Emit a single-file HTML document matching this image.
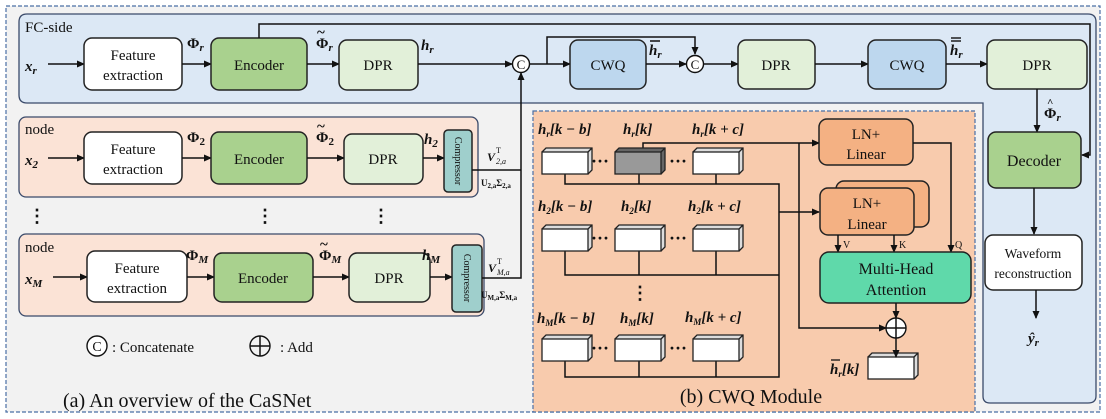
<!DOCTYPE html>
<html><head><meta charset="utf-8"><style>
html,body{margin:0;padding:0;background:#fff}
svg{display:block}
text{font-family:"Liberation Serif",serif;fill:#111}
.b{font-size:15px}
.m{font-size:15px;font-weight:bold;font-style:italic}
.p{font-size:15px;font-weight:bold}
.box{stroke:#222;stroke-width:1.5}
.ln{stroke:#111;stroke-width:1.5;fill:none}
</style></head><body>
<svg width="1106" height="419" viewBox="0 0 1106 419" xmlns="http://www.w3.org/2000/svg">
<defs>
<marker id="a" markerWidth="8" markerHeight="8" refX="7" refY="4" orient="auto" markerUnits="userSpaceOnUse"><path d="M0,0.5 L8,4 L0,7.5z" fill="#111"/></marker>
<g id="cube"><path d="M0,0 L4,-4 L50,-4 L50,18 L46,22 M46,0 L50,-4" fill="#ddd" stroke="#222" stroke-width="1.3"/><rect x="0" y="0" width="46" height="22" fill="#fff" stroke="#222" stroke-width="1.3"/></g>
<g id="cubeg"><path d="M0,0 L4,-4 L50,-4 L50,18 L46,22 M46,0 L50,-4" fill="#666" stroke="#222" stroke-width="1.3"/><rect x="0" y="0" width="46" height="22" fill="#999" stroke="#222" stroke-width="1.3"/></g>
</defs>
<rect x="6" y="6" width="1094" height="406" fill="#f2f2f2" stroke="#4a6fa5" stroke-width="1.2" stroke-dasharray="4,2"/>
<path d="M27,14 H1088 Q1096,14 1096,22 V396 Q1096,403 1088,403 H990 Q983,403 983,396 V103 H27 Q19,103 19,95 V22 Q19,14 27,14Z" fill="#dce8f5" stroke="#3a4a6a" stroke-width="1.3"/>
<text x="25" y="32" class="b">FC-side</text>
<rect x="533" y="111" width="442" height="301" fill="#f8cbad" stroke="#4a6fa5" stroke-width="1.2" stroke-dasharray="4,2"/>
<rect x="19" y="117" width="459" height="80" rx="7" fill="#fbe3d6" stroke="#3a4a6a" stroke-width="1.3"/>
<text x="25" y="134" class="b">node</text>
<rect x="19" y="234" width="465" height="82" rx="7" fill="#fbe3d6" stroke="#3a4a6a" stroke-width="1.3"/>
<text x="25" y="252" class="b">node</text>

<!-- FC row -->
<text x="25" y="71" class="m" font-size="17">x<tspan font-size="11" dy="3">r</tspan></text>
<line x1="48" y1="64" x2="84" y2="64" class="ln" marker-end="url(#a)"/>
<rect x="84" y="38" width="98" height="52" rx="8" fill="#fff" class="box"/>
<text x="133" y="60" class="b" text-anchor="middle">Feature</text><text x="133" y="80" class="b" text-anchor="middle">extraction</text>
<line x1="182" y1="64" x2="211" y2="64" class="ln" marker-end="url(#a)"/>
<text x="187" y="48" class="p">Φ<tspan font-size="11" dy="3" font-style="italic">r</tspan></text>
<rect x="211" y="38" width="96" height="52" rx="8" fill="#a9d18e" class="box"/>
<text x="259" y="70" class="b" text-anchor="middle">Encoder</text>
<line x1="307" y1="64" x2="339" y2="64" class="ln" marker-end="url(#a)"/>
<text x="316" y="48" class="p">Φ<tspan font-size="11" dy="3" font-style="italic">r</tspan></text><text x="317" y="37" class="p">~</text>
<rect x="339" y="40" width="79" height="50" rx="8" fill="#e2f0d9" class="box"/>
<text x="378" y="70" class="b" text-anchor="middle">DPR</text>
<text x="421" y="50" class="m" font-size="17">h<tspan font-size="11" dy="3">r</tspan></text>
<line x1="418" y1="64" x2="512" y2="64" class="ln" marker-end="url(#a)"/>
<circle cx="521" cy="64" r="8.5" fill="#fff" stroke="#111" stroke-width="1.4"/><text x="521" y="69" font-size="13" text-anchor="middle">C</text>
<line x1="530" y1="64" x2="570" y2="64" class="ln" marker-end="url(#a)"/>
<path d="M547,64 V37 H695 V54" class="ln" marker-end="url(#a)"/>
<rect x="570" y="40" width="76" height="49" rx="8" fill="#bdd7ee" class="box"/>
<text x="608" y="70" class="b" text-anchor="middle">CWQ</text>
<text x="649" y="55" class="m" font-size="17">h<tspan font-size="11" dy="3">r</tspan></text><line x1="650" y1="41" x2="660" y2="41" stroke="#111" stroke-width="1.5"/>
<line x1="646" y1="64" x2="686" y2="64" class="ln" marker-end="url(#a)"/>
<circle cx="695" cy="64" r="8.5" fill="#fff" stroke="#111" stroke-width="1.4"/><text x="695" y="69" font-size="13" text-anchor="middle">C</text>
<line x1="704" y1="64" x2="738" y2="64" class="ln" marker-end="url(#a)"/>
<rect x="738" y="40" width="77" height="49" rx="8" fill="#e2f0d9" class="box"/>
<text x="776" y="70" class="b" text-anchor="middle">DPR</text>
<line x1="815" y1="64" x2="868" y2="64" class="ln" marker-end="url(#a)"/>
<rect x="868" y="40" width="78" height="49" rx="8" fill="#bdd7ee" class="box"/>
<text x="907" y="70" class="b" text-anchor="middle">CWQ</text>
<text x="950" y="55" class="m" font-size="17">h<tspan font-size="11" dy="3">r</tspan></text><line x1="951" y1="38" x2="961" y2="38" stroke="#111" stroke-width="1.4"/><line x1="951" y1="41" x2="961" y2="41" stroke="#111" stroke-width="1.4"/>
<line x1="946" y1="64" x2="987" y2="64" class="ln" marker-end="url(#a)"/>
<rect x="987" y="40" width="100" height="49" rx="8" fill="#e2f0d9" class="box"/>
<text x="1037" y="70" class="b" text-anchor="middle">DPR</text>
<path d="M259,38 V24 H1090 V155 H1082" class="ln" marker-end="url(#a)"/>
<line x1="1037" y1="89" x2="1037" y2="132" class="ln" marker-end="url(#a)"/>
<text x="1044" y="118" class="p">Φ<tspan font-size="11" dy="3" font-style="italic">r</tspan></text><text x="1047" y="106" font-size="11" font-weight="bold">^</text>
<rect x="988" y="132" width="93" height="56" rx="8" fill="#a9d18e" class="box"/>
<text x="1034" y="166" font-size="16" text-anchor="middle">Decoder</text>
<line x1="1034" y1="188" x2="1034" y2="234" class="ln" marker-end="url(#a)"/>
<rect x="985" y="235" width="97" height="55" rx="8" fill="#fff" class="box"/>
<text x="1033" y="258" font-size="13.5" text-anchor="middle">Waveform</text><text x="1033" y="278" font-size="13.5" text-anchor="middle">reconstruction</text>
<line x1="1036" y1="290" x2="1036" y2="318" class="ln" marker-end="url(#a)"/>
<text x="1028" y="343" class="m" font-size="17">ŷ<tspan font-size="11" dy="3">r</tspan></text>

<!-- node 2 row -->
<text x="25" y="165" class="m" font-size="17">x<tspan font-size="11" dy="3">2</tspan></text>
<line x1="48" y1="158" x2="84" y2="158" class="ln" marker-end="url(#a)"/>
<rect x="84" y="132" width="98" height="52" rx="8" fill="#fff" class="box"/>
<text x="133" y="154" class="b" text-anchor="middle">Feature</text><text x="133" y="174" class="b" text-anchor="middle">extraction</text>
<line x1="182" y1="158" x2="211" y2="158" class="ln" marker-end="url(#a)"/>
<text x="187" y="142" class="p">Φ<tspan font-size="11" dy="3">2</tspan></text>
<rect x="211" y="132" width="96" height="52" rx="8" fill="#a9d18e" class="box"/>
<text x="259" y="164" class="b" text-anchor="middle">Encoder</text>
<line x1="307" y1="158" x2="344" y2="158" class="ln" marker-end="url(#a)"/>
<text x="316" y="142" class="p">Φ<tspan font-size="11" dy="3">2</tspan></text><text x="317" y="131" class="p">~</text>
<rect x="344" y="134" width="79" height="50" rx="8" fill="#e2f0d9" class="box"/>
<text x="383" y="164" class="b" text-anchor="middle">DPR</text>
<text x="424" y="144" class="m" font-size="17">h<tspan font-size="11" dy="3">2</tspan></text>
<line x1="423" y1="158" x2="444" y2="158" class="ln" marker-end="url(#a)"/>
<rect x="444" y="130" width="28" height="62" rx="4" fill="#9fcfcc" class="box"/>
<text transform="translate(455,161) rotate(90)" font-size="10" text-anchor="middle">Compressor</text>
<line x1="472" y1="170" x2="521" y2="170" class="ln"/>
<text x="487" y="161" font-size="12" font-weight="bold" font-style="italic">V</text><text x="496" y="153" font-size="8">T</text><text x="496" y="164" font-size="8" font-style="italic">2,a</text>
<text x="481" y="186" font-size="9" font-weight="bold">U<tspan font-size="7" dy="2">2,a</tspan><tspan dy="-2">Σ</tspan><tspan font-size="7" dy="2">2,a</tspan></text>
<text x="28" y="222" font-size="18" font-weight="bold">⋮</text>
<text x="256" y="222" font-size="18" font-weight="bold">⋮</text>
<text x="372" y="222" font-size="18" font-weight="bold">⋮</text>
<!-- node M -->
<text x="25" y="284" class="m" font-size="17">x<tspan font-size="11" dy="3">M</tspan></text>
<line x1="53" y1="277" x2="87" y2="277" class="ln" marker-end="url(#a)"/>
<rect x="87" y="251" width="100" height="51" rx="8" fill="#fff" class="box"/>
<text x="137" y="273" class="b" text-anchor="middle">Feature</text><text x="137" y="293" class="b" text-anchor="middle">extraction</text>
<line x1="187" y1="277" x2="214" y2="277" class="ln" marker-end="url(#a)"/>
<text x="186" y="260" class="p">Φ<tspan font-size="11" dy="3" font-style="italic">M</tspan></text>
<rect x="214" y="253" width="99" height="49" rx="8" fill="#a9d18e" class="box"/>
<text x="263" y="283" class="b" text-anchor="middle">Encoder</text>
<line x1="313" y1="277" x2="349" y2="277" class="ln" marker-end="url(#a)"/>
<text x="319" y="260" class="p">Φ<tspan font-size="11" dy="3" font-style="italic">M</tspan></text><text x="320" y="249" class="p">~</text>
<rect x="349" y="253" width="81" height="49" rx="8" fill="#e2f0d9" class="box"/>
<text x="389" y="283" class="b" text-anchor="middle">DPR</text>
<text x="422" y="260" class="m" font-size="17">h<tspan font-size="11" dy="3">M</tspan></text>
<line x1="430" y1="277" x2="452" y2="277" class="ln" marker-end="url(#a)"/>
<rect x="452" y="245" width="30" height="67" rx="4" fill="#9fcfcc" class="box"/>
<text transform="translate(464,278) rotate(90)" font-size="10" text-anchor="middle">Compressor</text>
<path d="M482,278 H521 V73" class="ln" marker-end="url(#a)"/>
<text x="488" y="272" font-size="12" font-weight="bold" font-style="italic">V</text><text x="497" y="264" font-size="8">T</text><text x="497" y="275" font-size="8" font-style="italic">M,a</text>
<text x="481" y="298" font-size="9" font-weight="bold">U<tspan font-size="7" dy="2">M,a</tspan><tspan dy="-2">Σ</tspan><tspan font-size="7" dy="2">M,a</tspan></text>
<!-- legend -->
<circle cx="97" cy="346" r="10" fill="#fff" stroke="#111" stroke-width="1.4"/><text x="97" y="351" font-size="14" text-anchor="middle">C</text>
<text x="112" y="352" class="b">:  Concatenate</text>
<circle cx="260" cy="346" r="10" fill="none" stroke="#111" stroke-width="1.4"/><path d="M250,346 H270 M260,336 V356" class="ln"/>
<text x="280" y="352" class="b">:   Add</text>
<text x="63" y="407" font-size="20">(a) An overview of the CaSNet</text>

<!-- CWQ module -->
<g class="m" font-size="14">
<text x="538" y="134">h<tspan font-size="9" dy="3">r</tspan><tspan dy="-3">[k − b]</tspan></text>
<text x="623" y="134">h<tspan font-size="9" dy="3">r</tspan><tspan dy="-3">[k]</tspan></text>
<text x="692" y="134">h<tspan font-size="9" dy="3">r</tspan><tspan dy="-3">[k + c]</tspan></text>
<text x="538" y="211">h<tspan font-size="9" dy="3">2</tspan><tspan dy="-3">[k − b]</tspan></text>
<text x="621" y="211">h<tspan font-size="9" dy="3">2</tspan><tspan dy="-3">[k]</tspan></text>
<text x="688" y="211">h<tspan font-size="9" dy="3">2</tspan><tspan dy="-3">[k + c]</tspan></text>
<text x="537" y="323">h<tspan font-size="9" dy="3">M</tspan><tspan dy="-3">[k − b]</tspan></text>
<text x="620" y="323">h<tspan font-size="9" dy="3">M</tspan><tspan dy="-3">[k]</tspan></text>
<text x="685" y="322">h<tspan font-size="9" dy="3">M</tspan><tspan dy="-3">[k + c]</tspan></text>
<text x="830" y="374">h<tspan font-size="9" dy="3">r</tspan><tspan dy="-3">[k]</tspan></text>
</g>
<line x1="831" y1="360" x2="840" y2="360" stroke="#111" stroke-width="1.3"/>
<path d="M565,174 V184 H779 V377 H565 V361 M639,377 V361 M716,377 V361 M565,251 V275 H779 M639,275 V251 M716,275 V251 M639,184 V174 M716,184 V174" class="ln"/>
<line x1="779" y1="212" x2="819" y2="212" class="ln" marker-end="url(#a)"/>
<path d="M643,148 V143 H819" class="ln" marker-end="url(#a)"/>
<path d="M799,143 V328 H886" class="ln" marker-end="url(#a)"/>
<use href="#cube" x="542" y="152"/><use href="#cubeg" x="615" y="152"/><use href="#cube" x="693" y="152"/>
<use href="#cube" x="542" y="229"/><use href="#cube" x="615" y="229"/><use href="#cube" x="693" y="229"/>
<use href="#cube" x="542" y="339"/><use href="#cube" x="615" y="339"/><use href="#cube" x="693" y="339"/>
<use href="#cube" x="868" y="357"/>
<g font-size="18" font-weight="bold"><text x="591" y="167">···</text><text x="669" y="167">···</text><text x="591" y="244">···</text><text x="669" y="244">···</text><text x="591" y="354">···</text><text x="669" y="354">···</text><text x="631" y="299">⋮</text></g>
<rect x="819" y="119" width="94" height="46" rx="8" fill="#f4b183" class="box"/>
<text x="866" y="139" class="b" text-anchor="middle">LN+</text><text x="866" y="159" class="b" text-anchor="middle">Linear</text>
<rect x="836" y="181" width="93" height="46" rx="8" fill="#f4b183" class="box"/>
<rect x="820" y="188" width="94" height="47" rx="8" fill="#f4b183" class="box"/>
<text x="867" y="208" class="b" text-anchor="middle">LN+</text><text x="867" y="229" class="b" text-anchor="middle">Linear</text>
<line x1="838" y1="235" x2="838" y2="252" class="ln" marker-end="url(#a)"/>
<line x1="894" y1="235" x2="894" y2="252" class="ln" marker-end="url(#a)"/>
<path d="M913,143 H951 V252" class="ln" marker-end="url(#a)"/>
<text x="843" y="248" font-size="10">V</text><text x="899" y="248" font-size="10">K</text><text x="955" y="248" font-size="10">Q</text>
<rect x="820" y="252" width="151" height="51" rx="9" fill="#5fd9aa" class="box"/>
<text x="896" y="274" font-size="16" text-anchor="middle">Multi-Head</text><text x="896" y="295" font-size="16" text-anchor="middle">Attention</text>
<line x1="896" y1="303" x2="896" y2="318" class="ln" marker-end="url(#a)"/>
<circle cx="896" cy="328" r="10" fill="#fff" stroke="#111" stroke-width="1.4"/><path d="M886,328 H906 M896,318 V338" class="ln"/>
<line x1="896" y1="338" x2="896" y2="357" class="ln" marker-end="url(#a)"/>
<text x="751" y="403" font-size="20" text-anchor="middle">(b) CWQ Module</text>
</svg>
</body></html>
